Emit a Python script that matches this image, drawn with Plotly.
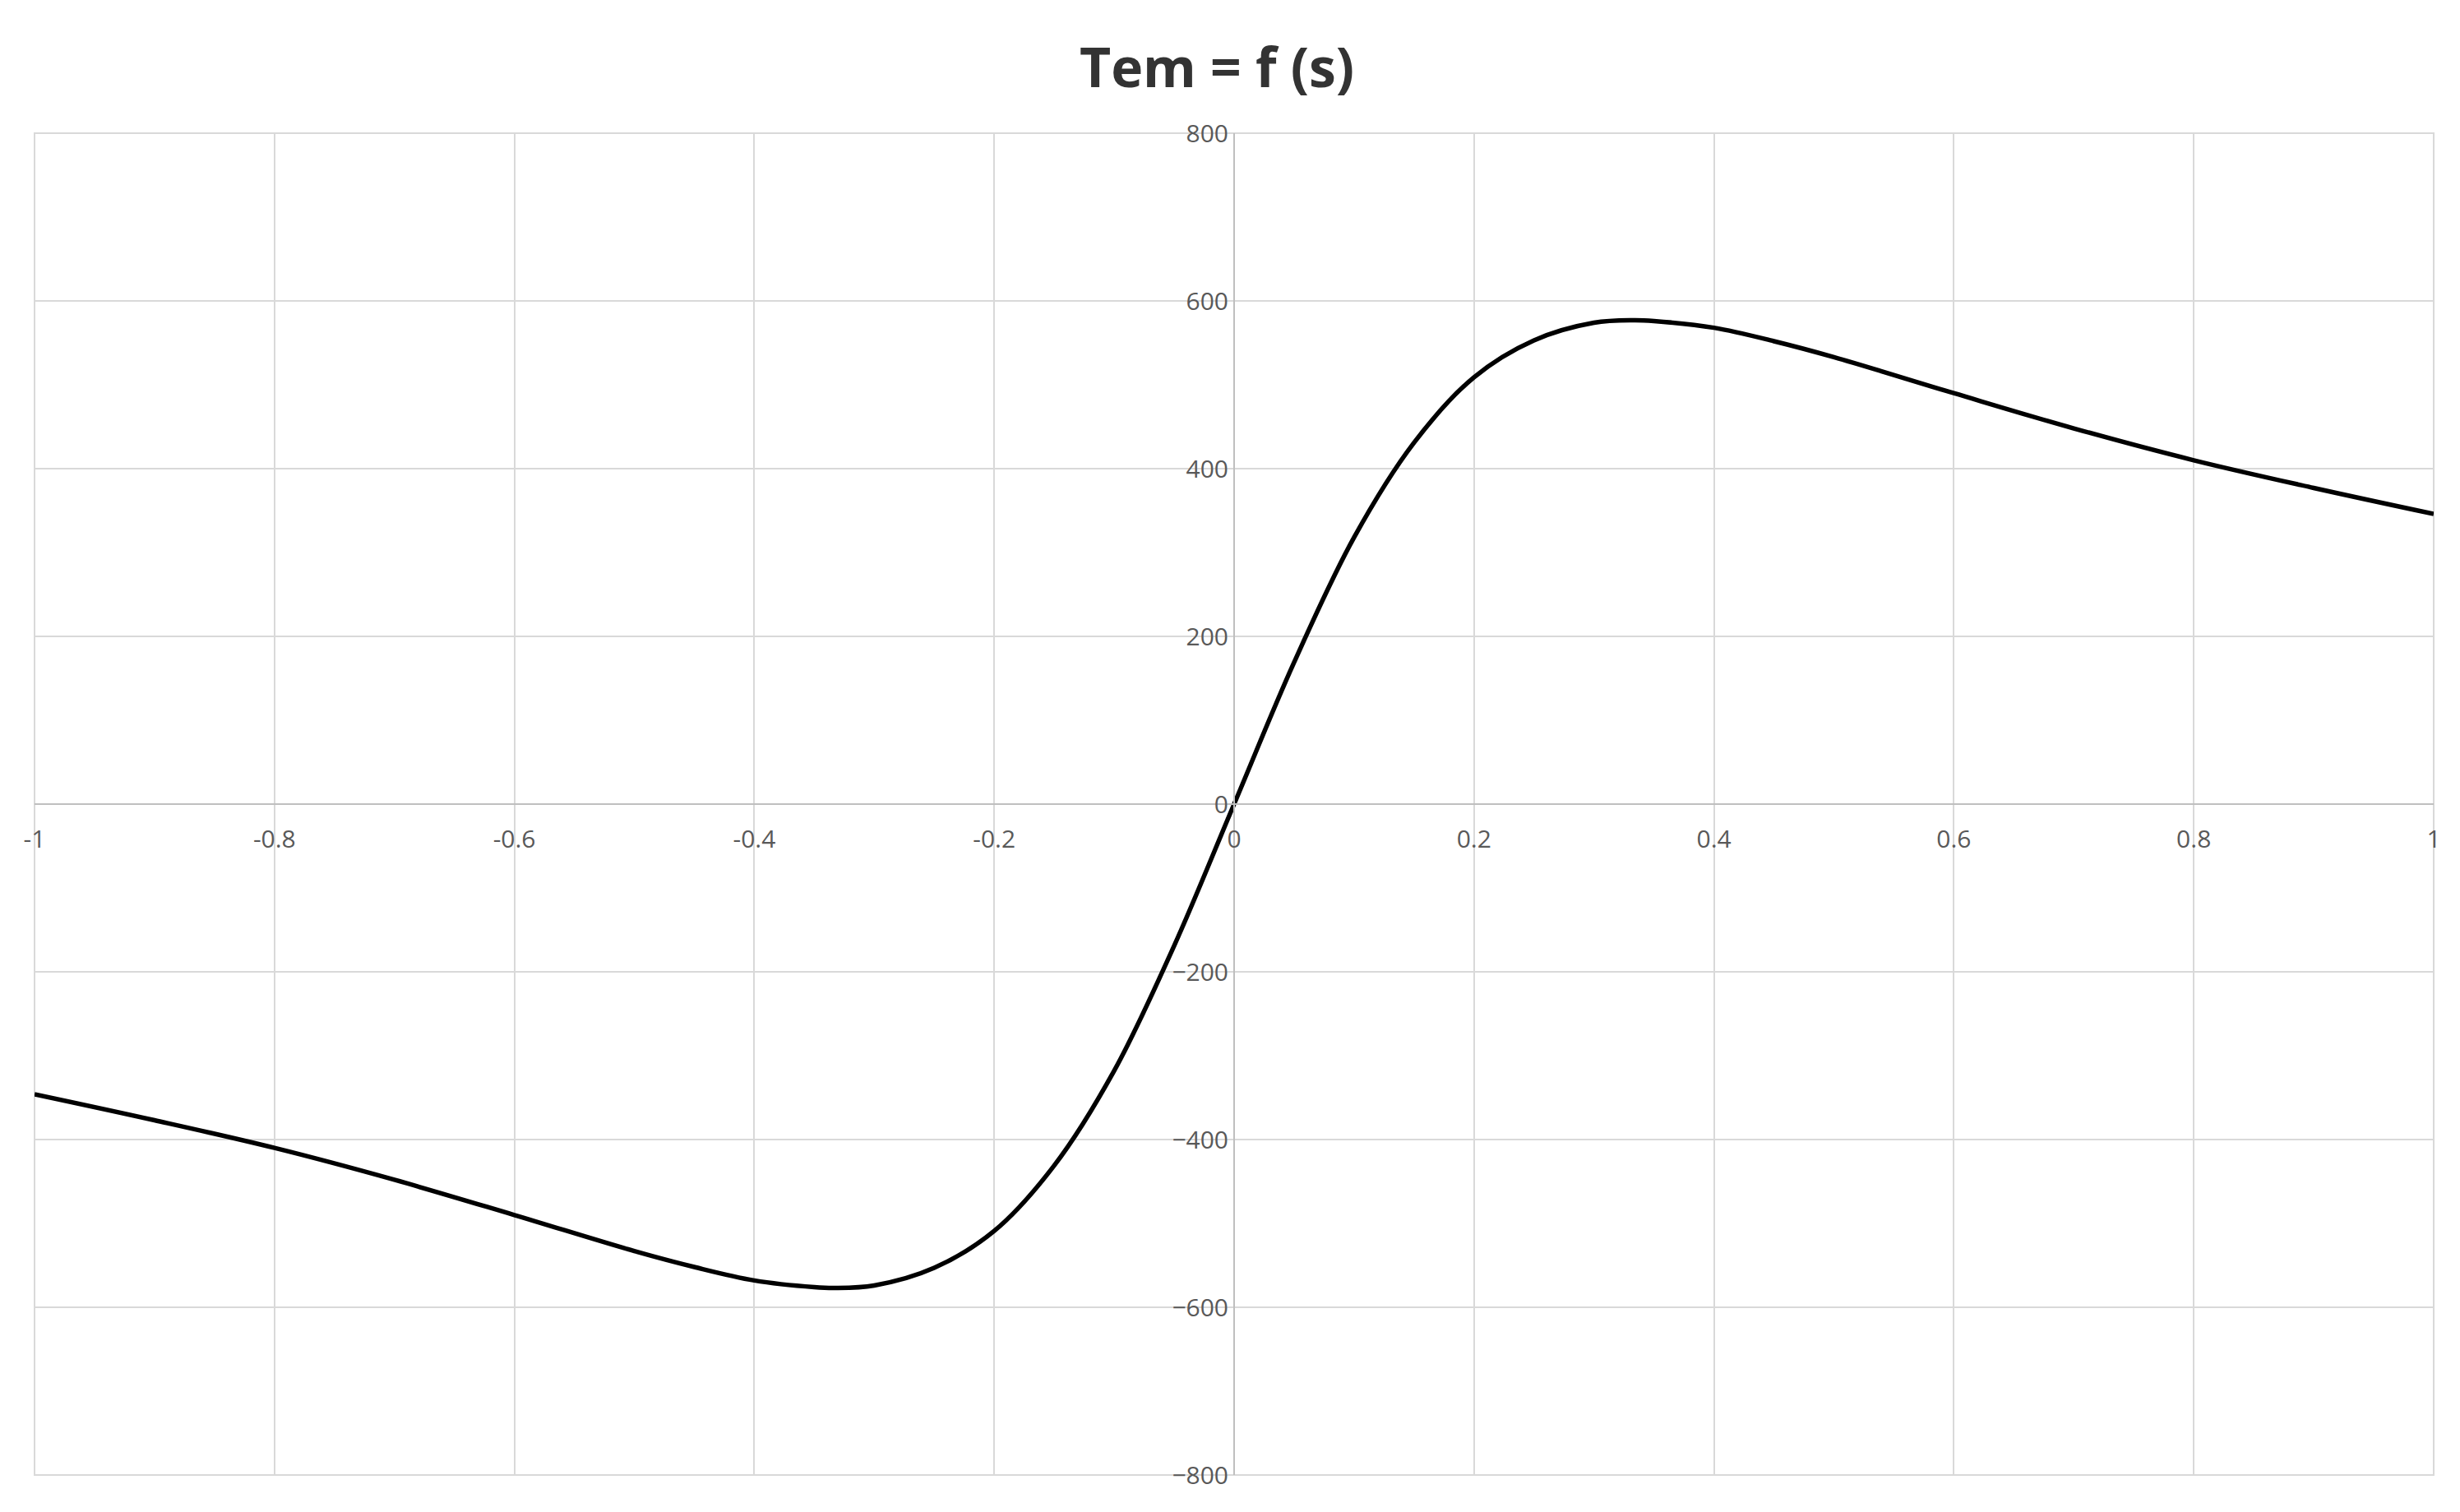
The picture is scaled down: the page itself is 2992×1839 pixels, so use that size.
import plotly.graph_objects as go

s_vals = [-1.0, -0.9, -0.8, -0.7, -0.6, -0.5, -0.45, -0.4, -0.35, -0.333, -0.3, -0.25, -0.2, -0.15, -0.1, -0.05, 0.0,
          0.05, 0.1, 0.15, 0.2, 0.25, 0.3, 0.333, 0.35, 0.4, 0.45, 0.5, 0.6, 0.7, 0.8, 0.9, 1.0]
tem_vals = [-346, -377, -410, -448, -490, -533, -552, -568, -576, -577, -574, -553, -509, -431, -318, -169, 0,
            169, 318, 431, 509, 553, 574, 577, 576, 568, 552, 533, 490, 448, 410, 377, 346]

x_ticks = [-1, -0.8, -0.6, -0.4, -0.2, 0, 0.2, 0.4, 0.6, 0.8, 1]
y_ticks = [-800, -600, -400, -200, 0, 200, 400, 600, 800]

fig = go.Figure(go.Scatter(x=s_vals, y=tem_vals, mode="lines", line=dict(color="black", width=5.5, shape="spline"),
                           showlegend=False))
fig.update_layout(
    width=2992, height=1839, plot_bgcolor="white", paper_bgcolor="white",
    margin=dict(l=34, r=40, t=154, b=53),
    title=dict(text="<b>Tem = f (s)</b>", x=0.492, xanchor="center", y=0.972, yanchor="top",
               font=dict(family="Open Sans", size=66, color="#333333")),
    font=dict(family="Open Sans", size=30, color="#595959"),
)
fig.update_xaxes(range=[-1, 1], tickvals=x_ticks, ticktext=[f"{v:g}" for v in x_ticks],
                 showgrid=True, gridcolor="#d9d9d9", gridwidth=2, zeroline=False,
                 anchor="free", position=0.5, showline=True, linecolor="#bfbfbf", linewidth=2,
                 ticks="", mirror=False, ticklabelstandoff=16)
fig.update_yaxes(range=[-800, 800], tickvals=y_ticks, showgrid=True, gridcolor="#d9d9d9", gridwidth=2,
                 zeroline=False, anchor="free", position=0.5, showline=True, linecolor="#bfbfbf",
                 linewidth=2, ticks="")
fig.add_shape(type="rect", xref="paper", yref="paper", x0=0, x1=1, y0=0, y1=1,
              line=dict(color="#d9d9d9", width=2), layer="below")
fig.write_html("out.html")
